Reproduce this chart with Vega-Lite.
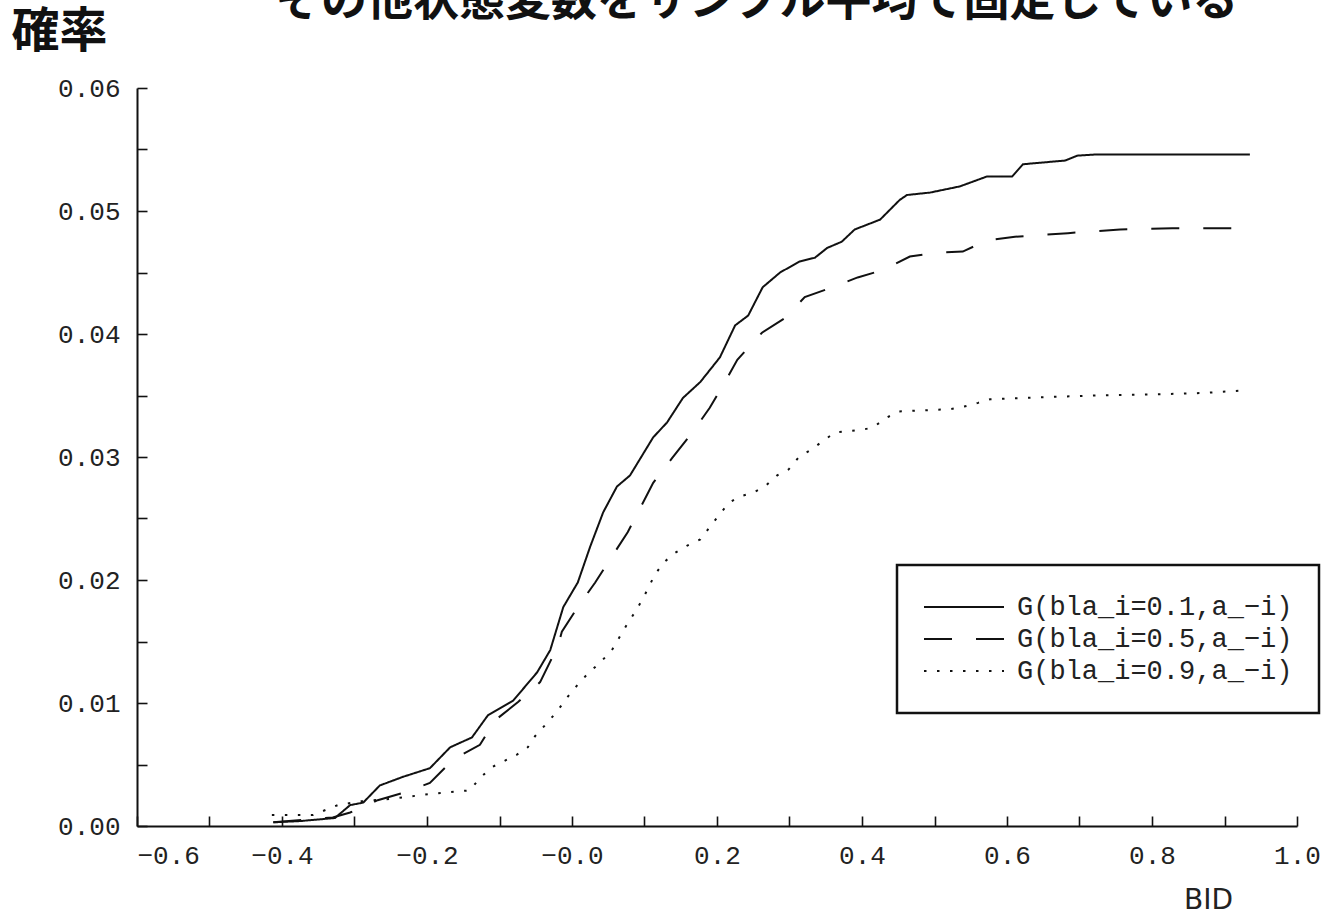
{
  "$schema": "https://vega.github.io/schema/vega-lite/v6.json",
  "width": 1160,
  "height": 738,
  "autosize": {"type": "none"},
  "padding": {"left": 137, "top": 88, "right": 25, "bottom": 88},
  "background": "white",
  "config": {"view": {"stroke": null}, "legend": {"strokeColor": "#111", "strokeWidth": 2.5}},
  "title": {
    "text": "その他状態変数をサンプル平均で固定している",
    "font": "Noto Sans CJK JP",
    "fontSize": 46,
    "fontWeight": "bold",
    "color": "#111",
    "anchor": "start",
    "frame": "group",
    "baseline": "alphabetic",
    "offset": 0,
    "dx": 138,
    "dy": 53
  },
  "datasets": {
    "curves": [
      {"bid": -0.412, "prob": 0.0003, "s": "G(bla_i=0.1,a_−i)"},
      {"bid": -0.375, "prob": 0.0004, "s": "G(bla_i=0.1,a_−i)"},
      {"bid": -0.327, "prob": 0.00065, "s": "G(bla_i=0.1,a_−i)"},
      {"bid": -0.306, "prob": 0.0017, "s": "G(bla_i=0.1,a_−i)"},
      {"bid": -0.288, "prob": 0.0019, "s": "G(bla_i=0.1,a_−i)"},
      {"bid": -0.265, "prob": 0.0033, "s": "G(bla_i=0.1,a_−i)"},
      {"bid": -0.233, "prob": 0.0040, "s": "G(bla_i=0.1,a_−i)"},
      {"bid": -0.196, "prob": 0.0047, "s": "G(bla_i=0.1,a_−i)"},
      {"bid": -0.168, "prob": 0.0064, "s": "G(bla_i=0.1,a_−i)"},
      {"bid": -0.138, "prob": 0.0072, "s": "G(bla_i=0.1,a_−i)"},
      {"bid": -0.116, "prob": 0.0090, "s": "G(bla_i=0.1,a_−i)"},
      {"bid": -0.081, "prob": 0.0102, "s": "G(bla_i=0.1,a_−i)"},
      {"bid": -0.048, "prob": 0.0125, "s": "G(bla_i=0.1,a_−i)"},
      {"bid": -0.030, "prob": 0.0143, "s": "G(bla_i=0.1,a_−i)"},
      {"bid": -0.012, "prob": 0.0178, "s": "G(bla_i=0.1,a_−i)"},
      {"bid": 0.008, "prob": 0.0198, "s": "G(bla_i=0.1,a_−i)"},
      {"bid": 0.025, "prob": 0.0227, "s": "G(bla_i=0.1,a_−i)"},
      {"bid": 0.043, "prob": 0.0255, "s": "G(bla_i=0.1,a_−i)"},
      {"bid": 0.062, "prob": 0.0276, "s": "G(bla_i=0.1,a_−i)"},
      {"bid": 0.080, "prob": 0.0285, "s": "G(bla_i=0.1,a_−i)"},
      {"bid": 0.112, "prob": 0.0316, "s": "G(bla_i=0.1,a_−i)"},
      {"bid": 0.131, "prob": 0.0328, "s": "G(bla_i=0.1,a_−i)"},
      {"bid": 0.153, "prob": 0.0348, "s": "G(bla_i=0.1,a_−i)"},
      {"bid": 0.177, "prob": 0.0361, "s": "G(bla_i=0.1,a_−i)"},
      {"bid": 0.204, "prob": 0.0381, "s": "G(bla_i=0.1,a_−i)"},
      {"bid": 0.225, "prob": 0.0407, "s": "G(bla_i=0.1,a_−i)"},
      {"bid": 0.243, "prob": 0.0415, "s": "G(bla_i=0.1,a_−i)"},
      {"bid": 0.263, "prob": 0.0438, "s": "G(bla_i=0.1,a_−i)"},
      {"bid": 0.287, "prob": 0.0450, "s": "G(bla_i=0.1,a_−i)"},
      {"bid": 0.314, "prob": 0.0459, "s": "G(bla_i=0.1,a_−i)"},
      {"bid": 0.335, "prob": 0.0462, "s": "G(bla_i=0.1,a_−i)"},
      {"bid": 0.352, "prob": 0.0470, "s": "G(bla_i=0.1,a_−i)"},
      {"bid": 0.372, "prob": 0.0475, "s": "G(bla_i=0.1,a_−i)"},
      {"bid": 0.390, "prob": 0.0485, "s": "G(bla_i=0.1,a_−i)"},
      {"bid": 0.425, "prob": 0.0493, "s": "G(bla_i=0.1,a_−i)"},
      {"bid": 0.452, "prob": 0.0509, "s": "G(bla_i=0.1,a_−i)"},
      {"bid": 0.462, "prob": 0.0513, "s": "G(bla_i=0.1,a_−i)"},
      {"bid": 0.494, "prob": 0.0515, "s": "G(bla_i=0.1,a_−i)"},
      {"bid": 0.535, "prob": 0.0520, "s": "G(bla_i=0.1,a_−i)"},
      {"bid": 0.572, "prob": 0.0528, "s": "G(bla_i=0.1,a_−i)"},
      {"bid": 0.607, "prob": 0.0528, "s": "G(bla_i=0.1,a_−i)"},
      {"bid": 0.622, "prob": 0.0538, "s": "G(bla_i=0.1,a_−i)"},
      {"bid": 0.641, "prob": 0.0539, "s": "G(bla_i=0.1,a_−i)"},
      {"bid": 0.680, "prob": 0.0541, "s": "G(bla_i=0.1,a_−i)"},
      {"bid": 0.697, "prob": 0.0545, "s": "G(bla_i=0.1,a_−i)"},
      {"bid": 0.724, "prob": 0.0546, "s": "G(bla_i=0.1,a_−i)"},
      {"bid": 0.935, "prob": 0.0546, "s": "G(bla_i=0.1,a_−i)"},

      {"bid": -0.412, "prob": 0.0003, "s": "G(bla_i=0.5,a_−i)"},
      {"bid": -0.330, "prob": 0.0007, "s": "G(bla_i=0.5,a_−i)"},
      {"bid": -0.306, "prob": 0.0011, "s": "G(bla_i=0.5,a_−i)"},
      {"bid": -0.268, "prob": 0.0021, "s": "G(bla_i=0.5,a_−i)"},
      {"bid": -0.233, "prob": 0.0027, "s": "G(bla_i=0.5,a_−i)"},
      {"bid": -0.196, "prob": 0.0035, "s": "G(bla_i=0.5,a_−i)"},
      {"bid": -0.164, "prob": 0.0054, "s": "G(bla_i=0.5,a_−i)"},
      {"bid": -0.127, "prob": 0.0066, "s": "G(bla_i=0.5,a_−i)"},
      {"bid": -0.106, "prob": 0.0086, "s": "G(bla_i=0.5,a_−i)"},
      {"bid": -0.074, "prob": 0.0101, "s": "G(bla_i=0.5,a_−i)"},
      {"bid": -0.044, "prob": 0.0117, "s": "G(bla_i=0.5,a_−i)"},
      {"bid": -0.019, "prob": 0.0147, "s": "G(bla_i=0.5,a_−i)"},
      {"bid": -0.014, "prob": 0.0158, "s": "G(bla_i=0.5,a_−i)"},
      {"bid": 0.008, "prob": 0.0178, "s": "G(bla_i=0.5,a_−i)"},
      {"bid": 0.032, "prob": 0.0198, "s": "G(bla_i=0.5,a_−i)"},
      {"bid": 0.055, "prob": 0.0219, "s": "G(bla_i=0.5,a_−i)"},
      {"bid": 0.077, "prob": 0.0239, "s": "G(bla_i=0.5,a_−i)"},
      {"bid": 0.112, "prob": 0.0279, "s": "G(bla_i=0.5,a_−i)"},
      {"bid": 0.138, "prob": 0.0299, "s": "G(bla_i=0.5,a_−i)"},
      {"bid": 0.166, "prob": 0.0320, "s": "G(bla_i=0.5,a_−i)"},
      {"bid": 0.190, "prob": 0.0340, "s": "G(bla_i=0.5,a_−i)"},
      {"bid": 0.211, "prob": 0.0361, "s": "G(bla_i=0.5,a_−i)"},
      {"bid": 0.228, "prob": 0.0379, "s": "G(bla_i=0.5,a_−i)"},
      {"bid": 0.262, "prob": 0.0401, "s": "G(bla_i=0.5,a_−i)"},
      {"bid": 0.294, "prob": 0.0413, "s": "G(bla_i=0.5,a_−i)"},
      {"bid": 0.321, "prob": 0.0430, "s": "G(bla_i=0.5,a_−i)"},
      {"bid": 0.359, "prob": 0.0438, "s": "G(bla_i=0.5,a_−i)"},
      {"bid": 0.394, "prob": 0.0446, "s": "G(bla_i=0.5,a_−i)"},
      {"bid": 0.429, "prob": 0.0452, "s": "G(bla_i=0.5,a_−i)"},
      {"bid": 0.466, "prob": 0.0463, "s": "G(bla_i=0.5,a_−i)"},
      {"bid": 0.501, "prob": 0.0466, "s": "G(bla_i=0.5,a_−i)"},
      {"bid": 0.539, "prob": 0.0467, "s": "G(bla_i=0.5,a_−i)"},
      {"bid": 0.572, "prob": 0.0476, "s": "G(bla_i=0.5,a_−i)"},
      {"bid": 0.611, "prob": 0.0479, "s": "G(bla_i=0.5,a_−i)"},
      {"bid": 0.684, "prob": 0.0482, "s": "G(bla_i=0.5,a_−i)"},
      {"bid": 0.756, "prob": 0.0485, "s": "G(bla_i=0.5,a_−i)"},
      {"bid": 0.828, "prob": 0.0486, "s": "G(bla_i=0.5,a_−i)"},
      {"bid": 0.935, "prob": 0.0486, "s": "G(bla_i=0.5,a_−i)"},

      {"bid": -0.414, "prob": 0.0009, "s": "G(bla_i=0.9,a_−i)"},
      {"bid": -0.357, "prob": 0.0009, "s": "G(bla_i=0.9,a_−i)"},
      {"bid": -0.323, "prob": 0.0017, "s": "G(bla_i=0.9,a_−i)"},
      {"bid": -0.292, "prob": 0.0020, "s": "G(bla_i=0.9,a_−i)"},
      {"bid": -0.251, "prob": 0.0022, "s": "G(bla_i=0.9,a_−i)"},
      {"bid": -0.196, "prob": 0.0026, "s": "G(bla_i=0.9,a_−i)"},
      {"bid": -0.159, "prob": 0.0028, "s": "G(bla_i=0.9,a_−i)"},
      {"bid": -0.141, "prob": 0.0029, "s": "G(bla_i=0.9,a_−i)"},
      {"bid": -0.127, "prob": 0.0039, "s": "G(bla_i=0.9,a_−i)"},
      {"bid": -0.110, "prob": 0.0048, "s": "G(bla_i=0.9,a_−i)"},
      {"bid": -0.076, "prob": 0.0058, "s": "G(bla_i=0.9,a_−i)"},
      {"bid": -0.061, "prob": 0.0064, "s": "G(bla_i=0.9,a_−i)"},
      {"bid": -0.051, "prob": 0.0073, "s": "G(bla_i=0.9,a_−i)"},
      {"bid": -0.034, "prob": 0.0084, "s": "G(bla_i=0.9,a_−i)"},
      {"bid": -0.021, "prob": 0.0093, "s": "G(bla_i=0.9,a_−i)"},
      {"bid": -0.006, "prob": 0.0105, "s": "G(bla_i=0.9,a_−i)"},
      {"bid": 0.008, "prob": 0.0115, "s": "G(bla_i=0.9,a_−i)"},
      {"bid": 0.022, "prob": 0.0124, "s": "G(bla_i=0.9,a_−i)"},
      {"bid": 0.039, "prob": 0.0133, "s": "G(bla_i=0.9,a_−i)"},
      {"bid": 0.055, "prob": 0.0143, "s": "G(bla_i=0.9,a_−i)"},
      {"bid": 0.066, "prob": 0.0154, "s": "G(bla_i=0.9,a_−i)"},
      {"bid": 0.076, "prob": 0.0164, "s": "G(bla_i=0.9,a_−i)"},
      {"bid": 0.087, "prob": 0.0174, "s": "G(bla_i=0.9,a_−i)"},
      {"bid": 0.098, "prob": 0.0185, "s": "G(bla_i=0.9,a_−i)"},
      {"bid": 0.114, "prob": 0.0204, "s": "G(bla_i=0.9,a_−i)"},
      {"bid": 0.126, "prob": 0.0214, "s": "G(bla_i=0.9,a_−i)"},
      {"bid": 0.142, "prob": 0.0222, "s": "G(bla_i=0.9,a_−i)"},
      {"bid": 0.159, "prob": 0.0228, "s": "G(bla_i=0.9,a_−i)"},
      {"bid": 0.177, "prob": 0.0233, "s": "G(bla_i=0.9,a_−i)"},
      {"bid": 0.190, "prob": 0.0243, "s": "G(bla_i=0.9,a_−i)"},
      {"bid": 0.203, "prob": 0.0253, "s": "G(bla_i=0.9,a_−i)"},
      {"bid": 0.217, "prob": 0.0263, "s": "G(bla_i=0.9,a_−i)"},
      {"bid": 0.232, "prob": 0.0268, "s": "G(bla_i=0.9,a_−i)"},
      {"bid": 0.250, "prob": 0.0271, "s": "G(bla_i=0.9,a_−i)"},
      {"bid": 0.266, "prob": 0.0276, "s": "G(bla_i=0.9,a_−i)"},
      {"bid": 0.283, "prob": 0.0285, "s": "G(bla_i=0.9,a_−i)"},
      {"bid": 0.299, "prob": 0.0290, "s": "G(bla_i=0.9,a_−i)"},
      {"bid": 0.313, "prob": 0.0300, "s": "G(bla_i=0.9,a_−i)"},
      {"bid": 0.330, "prob": 0.0306, "s": "G(bla_i=0.9,a_−i)"},
      {"bid": 0.346, "prob": 0.0313, "s": "G(bla_i=0.9,a_−i)"},
      {"bid": 0.363, "prob": 0.0320, "s": "G(bla_i=0.9,a_−i)"},
      {"bid": 0.399, "prob": 0.0322, "s": "G(bla_i=0.9,a_−i)"},
      {"bid": 0.415, "prob": 0.0324, "s": "G(bla_i=0.9,a_−i)"},
      {"bid": 0.434, "prob": 0.0332, "s": "G(bla_i=0.9,a_−i)"},
      {"bid": 0.451, "prob": 0.0337, "s": "G(bla_i=0.9,a_−i)"},
      {"bid": 0.523, "prob": 0.0339, "s": "G(bla_i=0.9,a_−i)"},
      {"bid": 0.541, "prob": 0.0341, "s": "G(bla_i=0.9,a_−i)"},
      {"bid": 0.560, "prob": 0.0344, "s": "G(bla_i=0.9,a_−i)"},
      {"bid": 0.577, "prob": 0.0347, "s": "G(bla_i=0.9,a_−i)"},
      {"bid": 0.668, "prob": 0.0349, "s": "G(bla_i=0.9,a_−i)"},
      {"bid": 0.723, "prob": 0.0350, "s": "G(bla_i=0.9,a_−i)"},
      {"bid": 0.811, "prob": 0.0351, "s": "G(bla_i=0.9,a_−i)"},
      {"bid": 0.868, "prob": 0.0352, "s": "G(bla_i=0.9,a_−i)"},
      {"bid": 0.925, "prob": 0.0354, "s": "G(bla_i=0.9,a_−i)"}
    ]
  },
  "data": {"name": "curves"},
  "mark": {"type": "line", "color": "#111", "interpolate": "linear"},
  "encoding": {
    "x": {
      "field": "bid",
      "type": "quantitative",
      "scale": {"domain": [-0.6, 1.0], "nice": false, "zero": false},
      "axis": {
        "values": [-0.6, -0.5, -0.4, -0.3, -0.2, -0.1, 0, 0.1, 0.2, 0.3, 0.4, 0.5, 0.6, 0.7, 0.8, 0.9, 1.0],
        "labelExpr": "abs(round(datum.value*10)) % 2 == 1 ? '' : (round(datum.value*10) == 0 ? '−0.0' : format(datum.value, '.1f'))",
        "labelOverlap": false,
        "labelFlush": false,
        "labelAlign": {"condition": {"test": "datum.value < -0.55", "value": "left"}, "value": "center"},
        "grid": false,
        "tickSize": -10,
        "tickWidth": 1.6,
        "tickColor": "#111",
        "domainColor": "#111",
        "domainWidth": 2,
        "labelFont": "Liberation Mono",
        "labelFontSize": 26,
        "labelColor": "#222",
        "labelPadding": 26,
        "title": "BID",
        "titleFont": "DejaVu Sans",
        "titleFontSize": 28,
        "titleFontWeight": "normal",
        "titleColor": "#222",
        "titleAlign": "center",
        "titleBaseline": "alphabetic",
        "titleX": 1071,
        "titleY": 82
      }
    },
    "y": {
      "field": "prob",
      "type": "quantitative",
      "scale": {"domain": [0, 0.06], "nice": false, "zero": true},
      "axis": {
        "values": [0, 0.005, 0.01, 0.015, 0.02, 0.025, 0.03, 0.035, 0.04, 0.045, 0.05, 0.055, 0.06],
        "labelExpr": "round(datum.value*1000) % 10 == 0 ? format(datum.value, '.2f') : ''",
        "labelOverlap": false,
        "labelFlush": false,
        "grid": false,
        "tickSize": -10,
        "tickWidth": 1.6,
        "tickColor": "#111",
        "domainColor": "#111",
        "domainWidth": 2,
        "labelFont": "Liberation Mono",
        "labelFontSize": 26,
        "labelColor": "#222",
        "labelPadding": 27,
        "title": "確率",
        "titleFont": "Noto Sans CJK JP",
        "titleFontSize": 48,
        "titleFontWeight": "bold",
        "titleColor": "#111",
        "titleAngle": 0,
        "titleAlign": "left",
        "titleBaseline": "alphabetic",
        "titleX": -126,
        "titleY": -42
      }
    },
    "strokeDash": {
      "field": "s",
      "type": "nominal",
      "scale": {
        "domain": ["G(bla_i=0.1,a_−i)", "G(bla_i=0.5,a_−i)", "G(bla_i=0.9,a_−i)"],
        "range": [[1, 0], [28, 24], [2.5, 10.5]]
      },
      "legend": {
        "orient": "none",
        "legendX": 760,
        "legendY": 477,
        "title": null,
        "symbolType": "stroke",
        "symbolSize": 6400,
        "symbolStrokeWidth": 2,
        "symbolStrokeColor": "#111",
        "clipHeight": 32,
        "rowPadding": 0,
        "labelFont": "Liberation Mono",
        "labelFontSize": 27,
        "labelColor": "#222",
        "labelOffset": 12,
        "labelLimit": 0,
        "padding": 26,
        "fillColor": "white"
      }
    },
    "strokeWidth": {
      "field": "s",
      "type": "nominal",
      "scale": {
        "domain": ["G(bla_i=0.1,a_−i)", "G(bla_i=0.5,a_−i)", "G(bla_i=0.9,a_−i)"],
        "range": [2, 2, 2.6]
      },
      "legend": null
    }
  }
}
